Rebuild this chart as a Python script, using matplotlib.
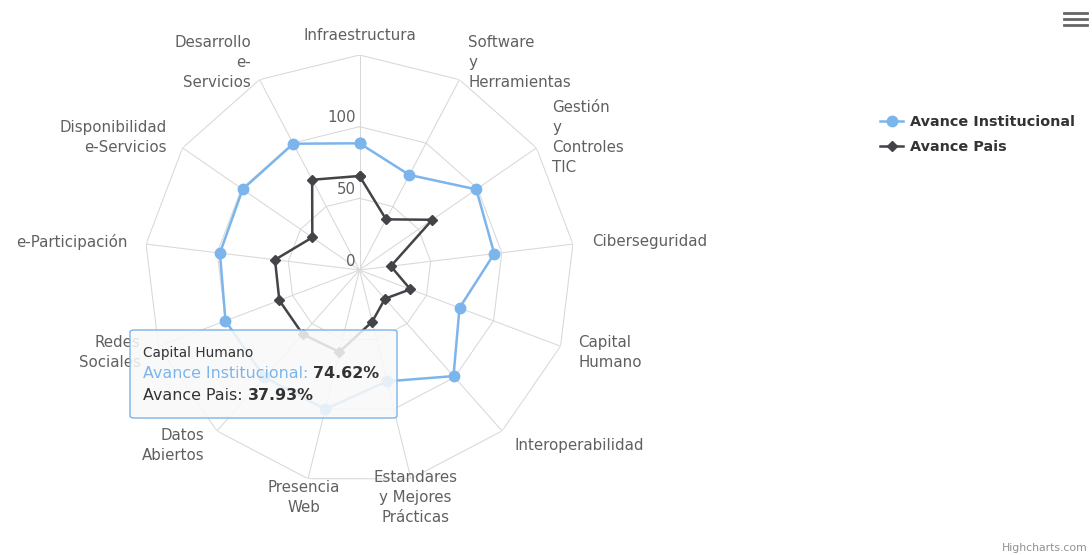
import numpy as np
import matplotlib
matplotlib.use("Agg")
import matplotlib.pyplot as plt
from matplotlib.lines import Line2D
from matplotlib.patches import FancyBboxPatch

# Datos del grafico
categorias = [
    "Infraestructura",
    "Software\ny\nHerramientas",
    "Gestión\ny\nControles\nTIC",
    "Ciberseguridad",
    "Capital\nHumano",
    "Interoperabilidad",
    "Estandares\ny Mejores\nPrácticas",
    "Presencia\nWeb",
    "Datos\nAbiertos",
    "Redes\nSociales",
    "e-Participación",
    "Disponibilidad\ne-Servicios",
    "Desarrollo\ne-\nServicios",
]
avance_institucional = [88.4, 74.9, 99.0, 94.7, 74.62, 98.9, 80.0, 100.0, 100.0, 100.0, 98.1, 99.1, 99.5]
avance_pais = [65.6, 39.9, 61.7, 22.0, 37.93, 26.8, 37.1, 58.9, 59.8, 59.8, 59.4, 40.0, 71.1]
niveles = [0, 50, 100]
anillos = [50, 100, 150]
r_max = 150

AZUL = "#7cb5ec"
NEGRO = "#434348"
GRILLA = "#d8d8d8"
TEXTO = "#606060"

plt.rcParams["font.family"] = ["DejaVu Sans"]

W, H = 1092, 555


def fx(x):
    return x / W


def fy(y):
    return 1 - y / H


fig = plt.figure(figsize=(W / 100, H / 100), dpi=100)

# Eje polar centrado donde esta el radar original
cx, cy, R = 359.5, 270, 215
ax = fig.add_axes([fx(cx - R), fy(cy + R), 2 * R / W, 2 * R / H], projection="polar")
ax.set_theta_zero_location("N")
ax.set_theta_direction(-1)
ax.set_ylim(0, r_max)
ax.grid(False)
ax.set_xticks([])
ax.set_yticks([])
ax.spines["polar"].set_visible(False)
ax.patch.set_alpha(0)

n = len(categorias)
ang = np.arange(n) * 2 * np.pi / n
ang_c = np.append(ang, ang[0])

# Grilla poligonal
for r in anillos:
    ax.plot(ang_c, [r] * (n + 1), color=GRILLA, lw=0.75, zorder=1)
for a in ang:
    ax.plot([a, a], [0, r_max], color=GRILLA, lw=0.75, zorder=1)

# Etiquetas del eje radial
for v in niveles:
    ax.annotate(str(v), xy=(0, v), xytext=(-4, 9), textcoords="offset pixels",
                ha="right", va="center", fontsize=10.8, color=TEXTO)

# Etiquetas de categorias
r_lab = r_max + 19 * r_max / R
for a, cat in zip(ang, categorias):
    s = np.sin(a)
    if abs(s) < 0.3:
        ha = "center"
    elif s > 0:
        ha = "left"
    else:
        ha = "right"
    ax.text(a, r_lab, cat, ha=ha, va="center", multialignment=ha,
            fontsize=10.8, color=TEXTO, linespacing=1.42)

# Series
l1, = ax.plot(ang_c, avance_institucional + avance_institucional[:1], color=AZUL, lw=1.8,
              marker="o", ms=7.5, mec=AZUL, label="Avance Institucional", zorder=3)
l2, = ax.plot(ang_c, avance_pais + avance_pais[:1], color=NEGRO, lw=1.8,
              marker="D", ms=5.5, mec=NEGRO, label="Avance Pais", zorder=3)

leg = fig.legend(handles=[l1, l2], loc="upper left", bbox_to_anchor=(fx(880), fy(115)),
                 frameon=False, borderpad=0, borderaxespad=0, handlelength=1.6,
                 handletextpad=0.5, labelspacing=0.78,
                 prop={"size": 10.4, "weight": "bold"})
for t in leg.get_texts():
    t.set_color("#333333")

# Tooltip
caja = FancyBboxPatch((fx(130), fy(418)), fx(397) - fx(130), fy(330) - fy(418),
                      boxstyle="round,pad=0,rounding_size=0.004",
                      transform=fig.transFigure, facecolor=(0.976, 0.976, 0.976, 0.85),
                      edgecolor=AZUL, lw=1, zorder=5)
fig.add_artist(caja)

renderer = fig.canvas.get_renderer()


def linea(x, y, partes, size):
    for texto, color, peso in partes:
        t = fig.text(fx(x), fy(y), texto, ha="left", va="center", fontsize=size,
                     color=color, weight=peso, zorder=6)
        bb = t.get_window_extent(renderer)
        x += bb.width


linea(143, 353, [("Capital Humano", "#333333", "normal")], 9.8)
linea(143, 374, [("Avance Institucional: ", AZUL, "normal"), ("74.62%", "#333333", "bold")], 11.4)
linea(143, 396, [("Avance Pais: ", "#333333", "normal"), ("37.93%", "#333333", "bold")], 11.4)

# Menu y credito
for y in [13, 19, 25]:
    fig.add_artist(Line2D([fx(1064), fx(1087)], [fy(y), fy(y)], color="#666666",
                          lw=2, transform=fig.transFigure))
fig.text(fx(1088), fy(548), "Highcharts.com", ha="right", va="center",
         fontsize=7.8, color="#909090")

fig.savefig("out.png", dpi=100)
